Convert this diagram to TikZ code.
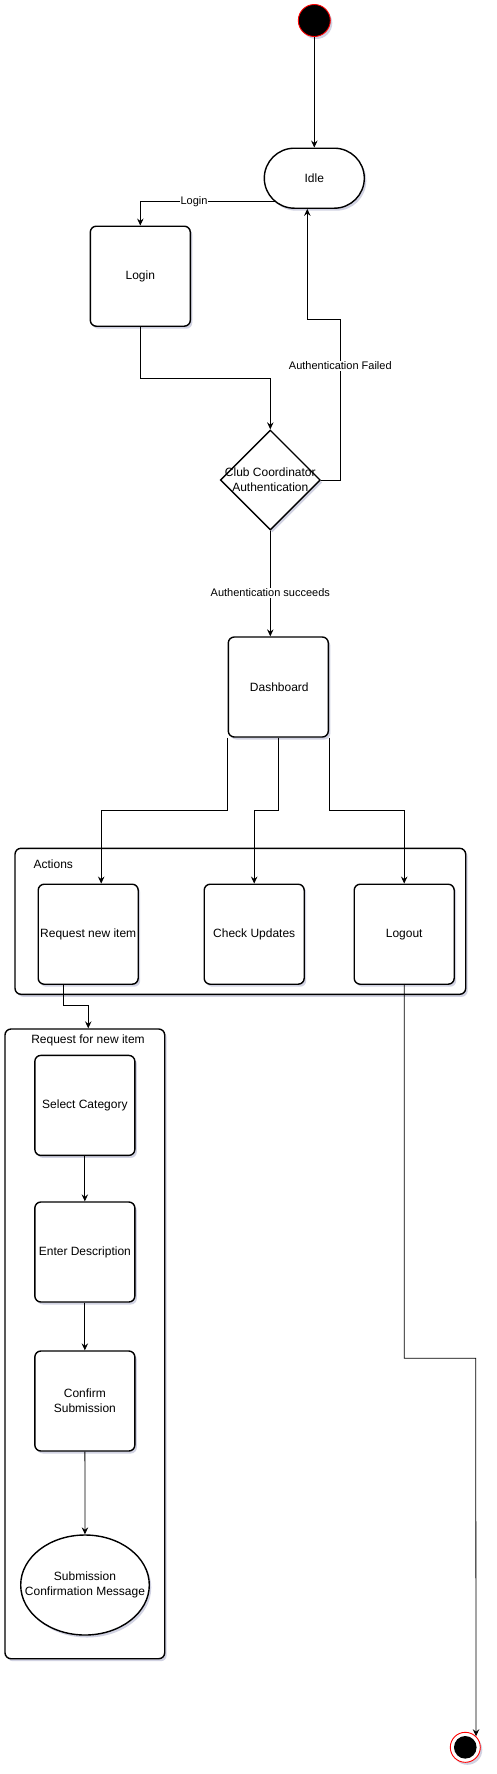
\documentclass[tikz,border=0pt]{standalone}
\usepackage{fontspec}
\setmainfont{Liberation Sans}
\usetikzlibrary{arrows.meta,shapes.geometric,shadows,calc}
\definecolor{shcol}{RGB}{190,192,215}
\begin{document}
\begin{tikzpicture}[x=1pt,y=-1pt,
  shad/.style={drop shadow={shadow xshift=2pt,shadow yshift=-2.5pt,fill=shcol,opacity=0.7}},
  box/.style={draw,line width=1.4pt,fill=white,rounded corners=6pt,minimum width=100pt,minimum height=100pt,inner sep=0pt,align=center,font=\fontsize{12}{15}\selectfont,shad},
  container/.style={draw,line width=1.4pt,fill=white,rounded corners=6pt,inner sep=0pt,shad},
  arr/.style={-{Stealth[length=7pt,width=6.5pt,inset=2.5pt]},line width=0.8pt},
  elabel/.style={fill=white,inner sep=1pt,font=\fontsize{11}{13}\selectfont},
  ctitle/.style={inner sep=0pt,font=\fontsize{12}{14}\selectfont},
  txt/.style={align=center,font=\fontsize{12}{15}\selectfont,inner sep=0pt}]
\useasboundingbox (0,0) rectangle (496,1774);
\fill[white] (0,0) rectangle (496,1774);

% containers
\node[container,minimum width=450.7pt,minimum height=146pt] (actions) at (240.35,921.3) {};
\node[ctitle] (actlbl) at (53.3,864.7) {Actions};
\node[container,minimum width=159.7pt,minimum height=629.7pt] (subc) at (84.85,1343.85) {};
\node[ctitle] (sublbl) at (88,1040) {Request for new item};

% nodes
\node[circle,draw=red,fill=black,line width=0.9pt,minimum size=32pt,inner sep=0pt,shad] (start) at (314.3,20.5) {};
\node[box,minimum height=60pt,rounded corners=30pt] (idle) at (314.3,178.2) {Idle};
\node[box] (login) at (140.3,276.2) {Login};
\node[diamond,draw,line width=1.4pt,fill=white,minimum width=100pt,minimum height=100pt,inner sep=0pt,shad] (auth) at (270.3,480) {};
\node[txt] (authtxt) at (270.3,480.2) {Club Coordinator\\Authentication};
\node[box] (dash) at (278.3,687) {\hspace{2pt}Dashboard};
\node[box] (req) at (88.2,934.2) {Request new item};
\node[box] (chk) at (254.2,934.2) {Check Updates};
\node[box] (logout) at (404.2,934.2) {Logout};
\node[box] (sc) at (84.85,1105.4) {Select Category};
\node[box] (ed) at (84.85,1252) {Enter Description};
\node[box] (cs) at (84.85,1401) {Confirm\\Submission};
\node[ellipse,draw,line width=1.4pt,fill=white,minimum width=128.6pt,minimum height=100pt,inner sep=0pt,shad] (msg) at (85,1585) {};
\node[txt] (msgtxt) at (85,1585) {Submission\\Confirmation Message};
\node[circle,draw=red,fill=white,line width=0.9pt,minimum size=30pt,inner sep=0pt,shad] (end) at (465.3,1747.3) {};
\fill[black] (end.center) circle (11.3pt);

% helper coordinates
\coordinate (idleL) at ($(idle.center)+(-38.4,23.5)$);
\coordinate (loginY) at (0,378.3);
\coordinate (af1) at (340.3,319.3);
\coordinate (busY) at (0,810.7);
\coordinate (lo1) at (475.7,1358.3);

% connectors
\draw[arr] (start) -- (idle);
\draw[arr] (idleL) -| (login.north);
\node[elabel] (lblLogin) at (194,202) {Login};
\draw[arr] (login.south) -- (login.south |- loginY) -| (auth.north);
\draw[arr] (auth.east) -| (af1) -| ([xshift=-7pt]idle.south);
\node[elabel] (lblFail) at (340.3,366) {Authentication Failed};
\draw[arr] (auth.south) -- (auth.south |- dash.north);
\node[elabel] (lblOk) at (270.3,593) {Authentication succeeds};
\draw[arr] (dash.south west) -- (dash.south west |- busY) -| ([xshift=13pt]req.north);
\draw[arr] (dash.south) -- (dash.south |- busY) -| (chk.north);
\draw[arr] (dash.south east) -- (dash.south east |- busY) -| (logout.north);
\draw[arr] ([xshift=-25pt]req.south) -- ++(0,20.7) -| ([xshift=3.4pt]subc.north);
\draw[arr] (sc) -- (ed);
\draw[arr] (ed) -- (cs);
\draw[arr] (cs) -- (msg);
\draw[arr] (logout.south) |- (lo1) -- (end.46);
\end{tikzpicture}
\end{document}
